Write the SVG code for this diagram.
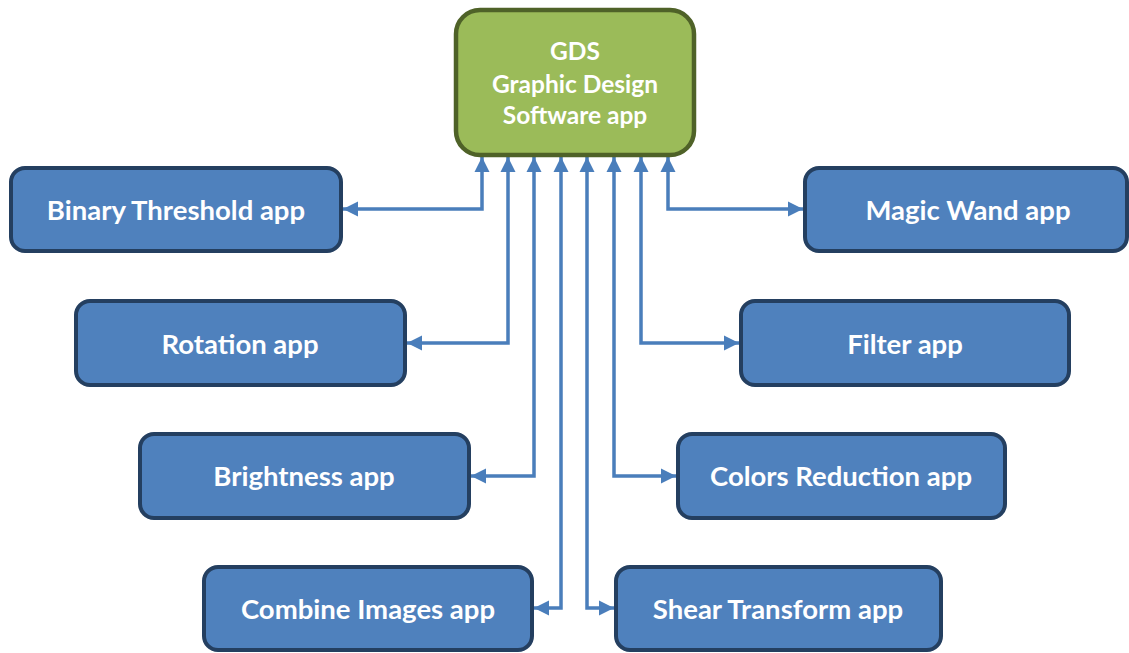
<svg xmlns="http://www.w3.org/2000/svg" width="1129" height="653" viewBox="0 0 1129 653">
  <defs>
    <marker id="arrow" viewBox="0 0 10 10" refX="10" refY="5" markerWidth="4.3" markerHeight="4.3" orient="auto-start-reverse" markerUnits="strokeWidth">
      <path d="M0,0 L10,5 L0,10 z" fill="#4A7EBB"/>
    </marker>
    <style>
      .app rect { fill: #4F81BD; stroke: #243F60; stroke-width: 4; }
      .hub rect { fill: #9BBB59; stroke: #4F6228; stroke-width: 4.5; }
      text { font-family: Lato, "Open Sans", "Liberation Sans", sans-serif; font-weight: bold; fill: #FFFFFF; text-anchor: middle; }
      .app text { font-size: 27.5px; }
      .hub text { font-size: 24.5px; }
      #connectors path { fill: none; stroke: #4A7EBB; stroke-width: 3.5; marker-start: url(#arrow); marker-end: url(#arrow); }
    </style>
  </defs>

  <!-- links between the hub and each app -->
  <g id="connectors">
    <path d="M482,157 V209 H343"/>
    <path d="M508,157 V343 H407"/>
    <path d="M534,157 V476 H471"/>
    <path d="M561,157 V608 H534"/>
    <path d="M587,157 V608 H614"/>
    <path d="M614,157 V476 H676"/>
    <path d="M641,157 V343 H739"/>
    <path d="M668,157 V209 H803"/>
  </g>

  <!-- central application -->
  <g id="gds" class="hub">
    <rect x="456" y="10" width="238" height="145" rx="24"/>
    <text x="575" y="60">GDS</text>
    <text x="575" y="93">Graphic Design</text>
    <text x="575" y="124">Software app</text>
  </g>

  <!-- left column -->
  <g id="binary-threshold" class="app">
    <rect x="11" y="168" width="330" height="83" rx="14"/>
    <text x="176" y="220">Binary Threshold app</text>
  </g>
  <g id="rotation" class="app">
    <rect x="76" y="301" width="329" height="84" rx="14"/>
    <text x="240" y="354">Rotation app</text>
  </g>
  <g id="brightness" class="app">
    <rect x="140" y="434" width="329" height="84" rx="14"/>
    <text x="304" y="486">Brightness app</text>
  </g>
  <g id="combine-images" class="app">
    <rect x="204" y="567" width="328" height="83" rx="14"/>
    <text x="368" y="619">Combine Images app</text>
  </g>

  <!-- right column -->
  <g id="magic-wand" class="app">
    <rect x="805" y="168" width="322" height="83" rx="14"/>
    <text x="968" y="220">Magic Wand app</text>
  </g>
  <g id="filter" class="app">
    <rect x="741" y="301" width="328" height="84" rx="14"/>
    <text x="905" y="354">Filter app</text>
  </g>
  <g id="colors-reduction" class="app">
    <rect x="678" y="434" width="327" height="84" rx="14"/>
    <text x="841" y="486">Colors Reduction app</text>
  </g>
  <g id="shear-transform" class="app">
    <rect x="616" y="567" width="325" height="83" rx="14"/>
    <text x="778" y="619">Shear Transform app</text>
  </g>
</svg>
